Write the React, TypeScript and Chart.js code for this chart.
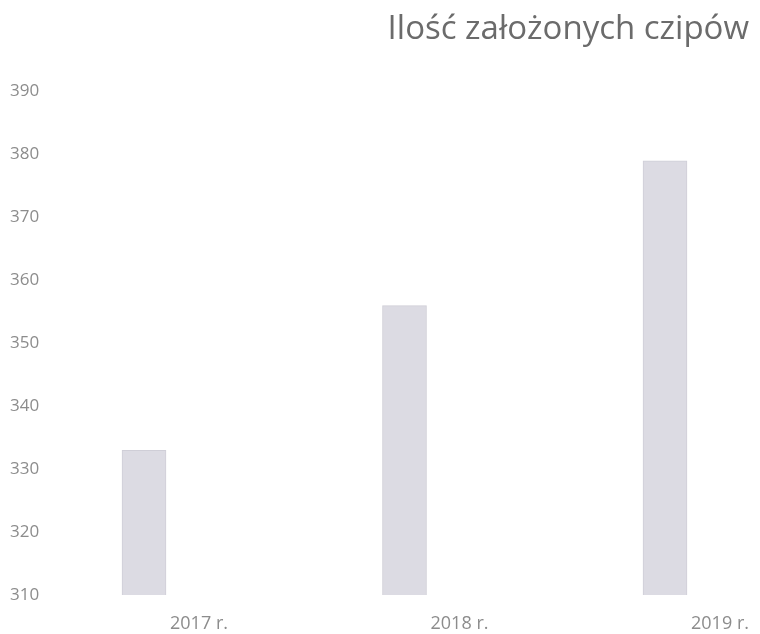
import React, { useEffect, useRef } from "react";
import { Chart, registerables } from "chart.js";

Chart.register(...registerables);

const titleText = "Ilość założonych czipów";
const categories = ["2017 r.", "2018 r.", "2019 r."];
const chipValues = [333, 356, 379];
const yMin = 310;
const yMax = 390;
const yStep = 10;

export default function App() {
  const canvasRef = useRef<HTMLCanvasElement | null>(null);

  useEffect(() => {
    if (!canvasRef.current) return;
    const chart = new Chart(canvasRef.current, {
      type: "bar",
      data: {
        labels: categories,
        datasets: [
          {
            label: titleText,
            data: chipValues,
            base: yMin,
            backgroundColor: "#dcdbe3",
            borderColor: "#cfced7",
            borderWidth: 1,
            barThickness: 44,
            clip: false as any,
          },
        ],
      },
      options: {
        responsive: false,
        animation: false,
        layout: { padding: { left: 2, right: 11, top: 0, bottom: 0 } },
        plugins: {
          legend: { display: false },
          tooltip: { enabled: false },
          title: {
            display: true,
            text: titleText,
            align: "end",
            color: "#6b6b6b",
            font: { family: "'Open Sans', sans-serif", size: 33, weight: "normal" },
            padding: { top: 2, bottom: 42 },
          },
        },
        scales: {
          x: {
            type: "category",
            offset: false,
            grid: { display: false, drawTicks: false },
            border: { display: false },
            ticks: {
              color: "#8c8c8c",
              font: { family: "'Open Sans', sans-serif", size: 18 },
              padding: 18,
              labelOffset: 55,
              maxRotation: 0,
              autoSkip: false,
            },
            afterFit: (scale: any) => {
              scale.height = 39;
            },
          },
          y: {
            type: "linear",
            position: "left",
            min: yMin,
            max: yMax,
            grid: { display: false, drawTicks: false },
            border: { display: false },
            ticks: {
              stepSize: yStep,
              color: "#8c8c8c",
              font: { family: "'Open Sans', sans-serif", size: 17 },
              crossAlign: "far",
              padding: 0,
            },
            afterFit: (scale: any) => {
              scale.width = 134;
            },
          },
          y2: {
            type: "linear",
            position: "right",
            display: true,
            grid: { display: false, drawTicks: false },
            border: { display: false },
            ticks: { display: false },
            afterFit: (scale: any) => {
              scale.width = 84;
            },
          },
        },
      } as any,
    });
    return () => chart.destroy();
  }, []);

  return (
    <div style={{ width: 752, height: 626 }}>
      <canvas ref={canvasRef} width={752} height={626} style={{ display: "block" }} />
    </div>
  );
}
